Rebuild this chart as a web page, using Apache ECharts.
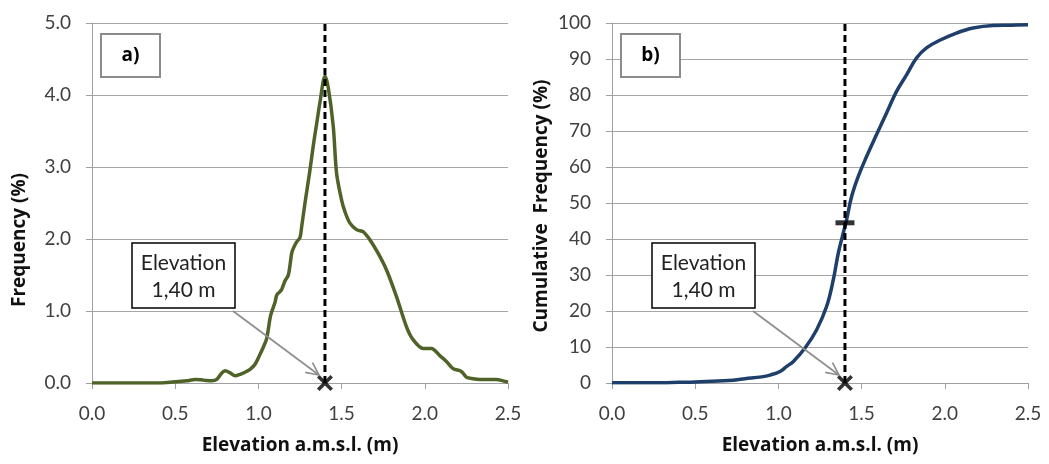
<!DOCTYPE html>
<html>
<head>
<meta charset="utf-8">
<script src="https://cdn.jsdelivr.net/npm/echarts@6/dist/echarts.min.js"></script>
<style>
  html, body { margin: 0; padding: 0; background: #ffffff; }
  #chart { width: 1049px; height: 464px; }
</style>
</head>
<body>
<div id="chart"></div>
<script>
// Frequency distribution of elevations (%)
const freqX = [0, 0.1, 0.2, 0.3, 0.4, 0.47, 0.52, 0.57, 0.62, 0.67, 0.72, 0.75, 0.78, 0.80, 0.83, 0.86, 0.89, 0.92, 0.95, 0.98,
  1.01, 1.03, 1.05, 1.07, 1.08, 1.10, 1.11, 1.13, 1.14, 1.16, 1.18, 1.20, 1.21, 1.23, 1.25, 1.26, 1.28, 1.31, 1.33, 1.35,
  1.37, 1.40, 1.42, 1.45, 1.47, 1.50, 1.52, 1.55, 1.59, 1.63, 1.65, 1.67, 1.72, 1.77, 1.83, 1.89, 1.93, 1.99, 2.04, 2.09,
  2.13, 2.17, 2.22, 2.25, 2.29, 2.33, 2.38, 2.43, 2.47, 2.50];
const freqY = [0, 0, 0, 0, 0, 0.01, 0.02, 0.03, 0.05, 0.04, 0.03, 0.05, 0.14, 0.17, 0.14, 0.10, 0.12, 0.15, 0.19, 0.26,
  0.40, 0.50, 0.62, 0.90, 0.99, 1.12, 1.22, 1.27, 1.30, 1.42, 1.50, 1.80, 1.87, 1.96, 2.02, 2.17, 2.50, 2.96, 3.30, 3.60,
  3.90, 4.26, 4.10, 3.56, 2.91, 2.54, 2.38, 2.22, 2.13, 2.10, 2.05, 1.99, 1.80, 1.57, 1.20, 0.78, 0.60, 0.48, 0.48, 0.38,
  0.30, 0.20, 0.16, 0.08, 0.06, 0.05, 0.05, 0.05, 0.03, 0.01];

// Cumulative frequency of elevations (%)
const cumX = [0, 0.1, 0.2, 0.3, 0.4, 0.5, 0.6, 0.7, 0.8, 0.9, 0.95, 1.01, 1.05, 1.09, 1.16, 1.23, 1.29, 1.33, 1.36, 1.39,
  1.41, 1.44, 1.48, 1.53, 1.59, 1.65, 1.71, 1.77, 1.83, 1.89, 1.97, 2.07, 2.17, 2.29, 2.40, 2.50];
const cumY = [0.1, 0.1, 0.1, 0.1, 0.2, 0.3, 0.5, 0.7, 1.2, 1.7, 2.2, 3.2, 4.6, 6.0, 9.7, 14.8, 21.3, 28.7, 36.1, 41.7,
  45.4, 51.8, 57.4, 62.9, 69.0, 75.0, 81.0, 85.6, 90.3, 93.1, 95.2, 97.2, 98.6, 99.3, 99.4, 99.5];

// Reference elevation and its cumulative share
const markElevation = 1.40;
const markCumulative = 44.5;

// Axis ranges / tick steps
const xRange = [0, 2.5, 0.5];
const freqRange = [0, 5, 1];
const cumRange = [0, 100, 10];

const panelLetters = ['a)', 'b)'];
const yNames = ['Frequency (%)', 'Cumulative  Frequency (%)'];
const xName = 'Elevation a.m.s.l. (m)';

const FONT = 'Lato, "Open Sans", sans-serif';
const BOLD_FONT = '"Open Sans", Lato, sans-serif';
const G = [
  { left: 92, top: 23, width: 416, height: 360 },
  { left: 612, top: 23, width: 416, height: 360 }
];

const zip = (xs, ys) => xs.map((x, i) => [x, ys[i]]);
const crossPath = 'path://M0,2.2L2.2,0L7,4.8L11.8,0L14,2.2L9.2,7L14,11.8L11.8,14L7,9.2L2.2,14L0,11.8L4.8,7Z';

function xAxisCfg(gridIndex) {
  return {
    type: 'value', gridIndex, min: xRange[0], max: xRange[1], interval: xRange[2],
    name: xName, nameLocation: 'middle', nameGap: 53,
    nameTextStyle: { fontFamily: BOLD_FONT, fontSize: 19, fontWeight: 'bold', color: '#111' },
    axisLine: { show: true, onZero: false, lineStyle: { color: '#a0a0a0', width: 1 } },
    axisTick: { show: true, inside: false, length: 6, lineStyle: { color: '#a0a0a0' } },
    axisLabel: { margin: 21, fontFamily: FONT, fontSize: 19, color: '#404040', formatter: v => v.toFixed(1) },
    splitLine: { show: false }
  };
}
function yAxisCfg(gridIndex, range, digits) {
  return {
    type: 'value', gridIndex, min: range[0], max: range[1], interval: range[2],
    axisLine: { show: true, lineStyle: { color: '#a0a0a0', width: 1 } },
    axisTick: { show: true, inside: false, length: 6, lineStyle: { color: '#a0a0a0' } },
    axisLabel: { margin: 21, fontFamily: FONT, fontSize: 19, color: '#404040', formatter: v => v.toFixed(digits) },
    splitLine: { show: true, lineStyle: { color: '#a6a6a6', width: 1 } }
  };
}

const chart = echarts.init(document.getElementById('chart'), null, { renderer: 'canvas' });

chart.setOption({
  animation: false,
  backgroundColor: '#ffffff',
  grid: G.map(g => Object.assign({ containLabel: false }, g)),
  xAxis: [xAxisCfg(0), xAxisCfg(1)],
  yAxis: [yAxisCfg(0, freqRange, 1), yAxisCfg(1, cumRange, 0)],
  series: [
    {
      type: 'line', xAxisIndex: 0, yAxisIndex: 0, data: zip(freqX, freqY),
      smooth: 0.3, showSymbol: false, z: 3,
      lineStyle: { color: '#4f6228', width: 3.5 }
    },
    {
      type: 'line', xAxisIndex: 1, yAxisIndex: 1, data: zip(cumX, cumY),
      smooth: 0.4, showSymbol: false, z: 3,
      lineStyle: { color: '#1f3f6b', width: 3.5 }
    },
    {
      type: 'line', xAxisIndex: 0, yAxisIndex: 0,
      data: [[markElevation, freqRange[0]], [markElevation, freqRange[1]]],
      showSymbol: false, z: 4, lineStyle: { color: '#000', width: 3, type: [7, 4] }
    },
    {
      type: 'line', xAxisIndex: 1, yAxisIndex: 1,
      data: [[markElevation, cumRange[0]], [markElevation, cumRange[1]]],
      showSymbol: false, z: 4, lineStyle: { color: '#000', width: 3, type: [7, 4] }
    },
    {
      type: 'scatter', xAxisIndex: 0, yAxisIndex: 0, data: [[markElevation, 0]], clip: false,
      symbol: crossPath, symbolSize: 16, z: 6, itemStyle: { color: '#000' }
    },
    {
      type: 'scatter', xAxisIndex: 1, yAxisIndex: 1, data: [[markElevation, 0]], clip: false,
      symbol: crossPath, symbolSize: 16, z: 6, itemStyle: { color: '#000' }
    },
    {
      type: 'scatter', xAxisIndex: 1, yAxisIndex: 1, data: [[markElevation, markCumulative]], clip: false,
      symbol: 'rect', symbolSize: [19, 5], z: 6, itemStyle: { color: '#000' }
    }
  ]
});

// Panel letters, elevation callouts with arrows, and y-axis titles
const elevLabel = 'Elevation\n' + markElevation.toFixed(2).replace('.', ',') + ' m';
const graphics = [];
G.forEach((g, i) => {
  // panel letter box
  graphics.push({
    type: 'rect', z: 10,
    shape: { x: g.left + 9, y: g.top + 11, width: 59, height: 43 },
    style: { fill: '#fff', stroke: '#8c8c8c', lineWidth: 2 }
  });
  graphics.push({
    type: 'text', z: 11, x: g.left + 38.5, y: g.top + 32.5,
    style: { text: panelLetters[i], font: 'bold 19px ' + BOLD_FONT, fill: '#000', align: 'center', verticalAlign: 'middle' }
  });
  // callout box
  const bx = g.left + 40, by = g.top + 220, bw = 103, bh = 65;
  graphics.push({
    type: 'rect', z: 10,
    shape: { x: bx, y: by, width: bw, height: bh },
    style: { fill: '#fff', stroke: '#000', lineWidth: 1.5 }
  });
  graphics.push({
    type: 'text', z: 11, x: bx + bw / 2, y: by + bh / 2 + 1,
    style: { text: elevLabel, font: '21px ' + FONT, fill: '#222', align: 'center', verticalAlign: 'middle', lineHeight: 27 }
  });
  // arrow from callout to the marked elevation
  const p = chart.convertToPixel({ xAxisIndex: i, yAxisIndex: i }, [markElevation, 0]);
  const sx = bx + bw - 2, sy = by + bh + 3;
  const ex = p[0] - 6, ey = p[1] - 8;
  const ang = Math.atan2(ey - sy, ex - sx);
  const hl = 14, ha = 0.45;
  graphics.push({
    type: 'line', z: 9,
    shape: { x1: sx, y1: sy, x2: ex, y2: ey },
    style: { stroke: '#8c8c8c', lineWidth: 1.6 }
  });
  graphics.push({
    type: 'polyline', z: 9,
    shape: { points: [
      [ex - hl * Math.cos(ang - ha), ey - hl * Math.sin(ang - ha)],
      [ex, ey],
      [ex - hl * Math.cos(ang + ha), ey - hl * Math.sin(ang + ha)]
    ] },
    style: { stroke: '#8c8c8c', lineWidth: 1.6, fill: null }
  });
});
// y-axis titles
graphics.push({
  type: 'text', z: 11, x: 20, y: 240, rotation: Math.PI / 2,
  style: { text: yNames[0], font: 'bold 19px ' + BOLD_FONT, fill: '#111', align: 'center', verticalAlign: 'middle' }
});
graphics.push({
  type: 'text', z: 11, x: 542, y: 206, rotation: Math.PI / 2,
  style: { text: yNames[1], font: 'bold 19px ' + BOLD_FONT, fill: '#111', align: 'center', verticalAlign: 'middle' }
});
chart.setOption({ graphic: graphics });
</script>
</body>
</html>
